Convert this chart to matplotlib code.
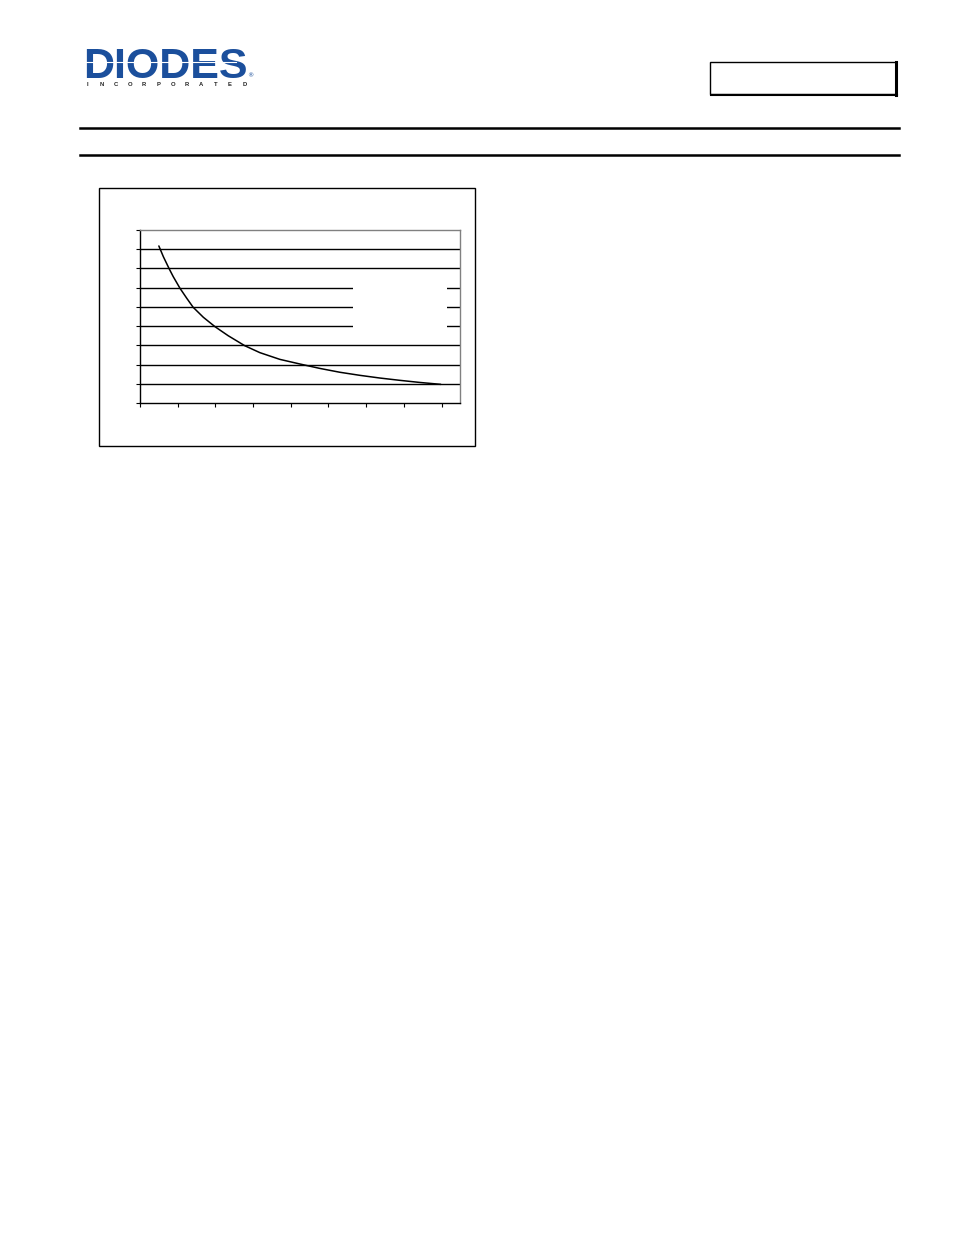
import matplotlib.pyplot as plt
from matplotlib.patches import Rectangle
from matplotlib.lines import Line2D

#data
curveX = [0.50, 0.62, 0.78, 0.88, 1.06, 1.24, 1.41, 1.68, 1.99, 2.34, 2.78, 3.18,
          3.71, 4.24, 4.77, 5.30, 5.83, 6.36, 6.89, 7.42, 7.98]
curveY = [8.17, 7.61, 6.96, 6.58, 5.97, 5.45, 4.98, 4.46, 3.97, 3.50, 2.98, 2.62,
          2.27, 2.03, 1.80, 1.60, 1.44, 1.30, 1.18, 1.07, 0.97]
xTicks = [0, 1, 2, 3, 4, 5, 6, 7, 8]
yTicks = [0, 1, 2, 3, 4, 5, 6, 7, 8, 9]
gridY = [1, 2, 3, 4, 5, 6, 7, 8]
logoText = "DIODES"
logoSub = "INCORPORATED"

W, H = 954, 1235
blue = "#1b4f9c"

fig = plt.figure(figsize=(W / 100, H / 100), dpi=100)

def fx(px):
    return px / W

def fy(py):
    return 1 - py / H

#logo
fig.text(fx(83), fy(78), logoText, fontsize=31, fontweight="bold", color=blue,
         family="Liberation Sans", ha="left", va="baseline")
fig.add_artist(Line2D([fx(86), fx(236)], [fy(62), fy(62)], color="white", lw=0.8, zorder=10))
fig.text(fx(250), fy(76), "®", fontsize=4.5, color=blue, ha="center", va="center")
for i, ch in enumerate(logoSub):
    fig.text(fx(87 + i * 14.3), fy(84), ch, fontsize=4.2, fontweight="bold",
             color="#222222", ha="center", va="center", family="Liberation Sans")

#header box with shadow
fig.add_artist(Rectangle((fx(710), fy(94)), fx(896) - fx(710), fy(62) - fy(94),
                         fill=False, ec="black", lw=1.0, transform=fig.transFigure))
fig.add_artist(Line2D([fx(896), fx(896)], [fy(62), fy(95)], color="black", lw=2.2))
fig.add_artist(Line2D([fx(711), fx(897)], [fy(94.5), fy(94.5)], color="black", lw=1.5))

#rules
for ry in [128, 155]:
    fig.add_artist(Line2D([fx(80), fx(899)], [fy(ry), fy(ry)], color="black", lw=1.8))

#chart frame
fig.add_artist(Rectangle((fx(99), fy(446)), fx(475) - fx(99), fy(188) - fy(446),
                         fill=False, ec="black", lw=1.0, transform=fig.transFigure))

#plot area
ax = fig.add_axes([fx(140), fy(403), (460 - 140) / W, (403 - 230) / H])
ax.set_xlim(0, 8.49)
ax.set_ylim(0, 9)
for g in gridY:
    ax.axhline(g, color="black", lw=1.0, zorder=1)
ax.plot(curveX, curveY, color="black", lw=1.1, zorder=3,
        solid_joinstyle="round", solid_capstyle="round")

# blank legend box
ax.add_patch(Rectangle((5.66, 3.6), 2.48, 2.8, transform=ax.transData,
                       fc="white", ec="none", zorder=2))

ax.set_xticks(xTicks)
ax.set_yticks(yTicks)
ax.set_xticklabels([])
ax.set_yticklabels([])
ax.tick_params(direction="out", length=3, width=0.8, color="black")
ax.spines["left"].set_color("black")
ax.spines["bottom"].set_color("black")
ax.spines["top"].set_color("#808080")
ax.spines["right"].set_color("#808080")
for s in ax.spines.values():
    s.set_linewidth(1.0)

fig.savefig("out.png", dpi=100)
